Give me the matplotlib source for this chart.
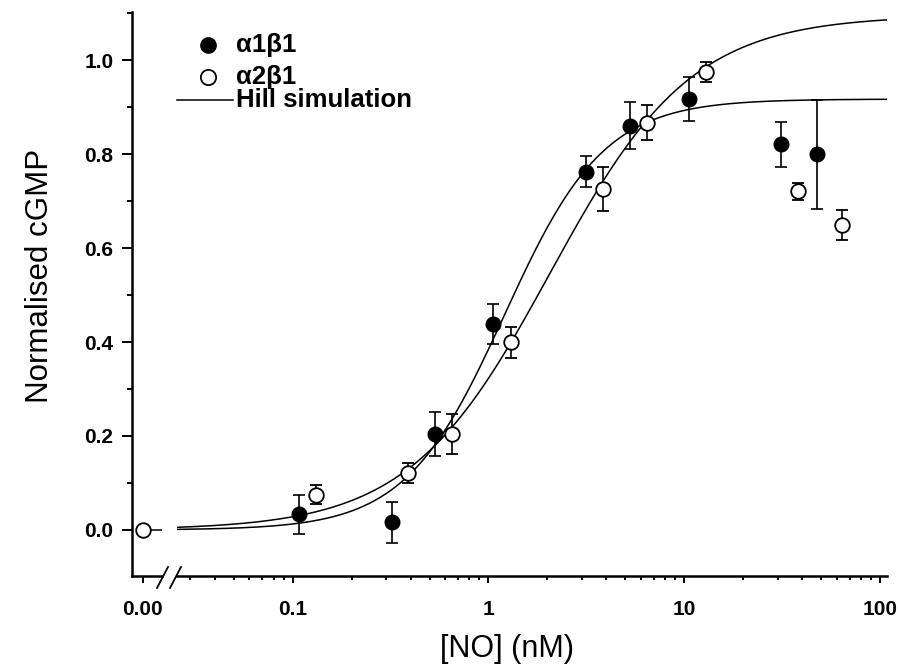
import numpy as np
import matplotlib
matplotlib.use("Agg")
import matplotlib.pyplot as plt
from matplotlib.lines import Line2D
from matplotlib.ticker import FixedLocator, MultipleLocator, LogLocator, NullFormatter, FuncFormatter

plt.rcParams['font.family'] = ['Liberation Sans', 'DejaVu Sans']

# [NO] in nM, normalised cGMP and SEM for each isoform
no_a1 = [0.108, 0.321, 0.533, 1.058, 3.15, 5.28, 10.6, 31.4, 47.6]
cgmp_a1 = [0.033, 0.016, 0.204, 0.438, 0.762, 0.860, 0.918, 0.821, 0.800]
err_a1 = [0.042, 0.043, 0.047, 0.042, 0.033, 0.050, 0.047, 0.048, 0.116]

no_a2 = [0.1316, 0.389, 0.649, 1.298, 3.86, 6.47, 12.9, 38.2, 63.7]
cgmp_a2 = [0.075, 0.121, 0.204, 0.400, 0.725, 0.867, 0.975, 0.721, 0.650]
err_a2 = [0.020, 0.021, 0.042, 0.033, 0.047, 0.037, 0.021, 0.018, 0.032]

# basal point (no NO added)
no_zero = [0.0]
cgmp_zero = [0.0]

# Hill parameters: vmax, EC50 (nM), hill coefficient
hill_a1 = (0.917, 1.21, 1.71)
hill_a2 = (1.095, 2.07, 1.2)

x_ticks = [0.1, 1, 10, 100]


def hill(x, vmax, ec50, n):
    return vmax * x ** n / (ec50 ** n + x ** n)


W, H = 898, 670
fig = plt.figure(figsize=(W / 100, H / 100), dpi=100)

def fx(px):
    return px / W

def fy(py):
    return 1 - py / H

bottom = fy(576)
height = (576 - 11.7) / H
ax0 = fig.add_axes([fx(131.7), bottom, fx(162) - fx(131.7), height])
ax1 = fig.add_axes([fx(177), bottom, fx(887) - fx(177), height], sharey=ax0)

lw_axis = 1.8
for ax in (ax0, ax1):
    ax.spines['top'].set_visible(False)
    ax.spines['right'].set_visible(False)
    ax.spines['bottom'].set_linewidth(lw_axis)
    ax.spines['left'].set_linewidth(lw_axis)
ax1.spines['left'].set_visible(False)

ax0.set_ylim(-0.098, 1.103)

tick_font = {'fontsize': 15, 'fontweight': 'bold'}

# left stub holding the x = 0 point
ax0.set_xlim(-11, 19.3)
ax0.plot([0, 19.3], [0, 0], color='black', lw=1.1, zorder=2)
ax0.plot(no_zero, cgmp_zero, 'o', ms=10.5, mfc='white', mec='black', mew=1.3, zorder=4)
ax0.xaxis.set_major_locator(FixedLocator([0]))
ax0.set_xticklabels(['0.00'], **tick_font)
ax0.yaxis.set_major_locator(MultipleLocator(0.2))
ax0.yaxis.set_minor_locator(MultipleLocator(0.1))
ax0.yaxis.set_major_formatter(FuncFormatter(lambda v, p: f"{v:.1f}"))
ax0.tick_params(axis='y', which='major', length=7.2, width=1.4, pad=6)
ax0.tick_params(axis='y', which='minor', length=3.6, width=1.4)
ax0.tick_params(axis='x', which='major', length=5, width=1.4, pad=12)
for lab in ax0.get_yticklabels():
    lab.set_fontsize(15)
    lab.set_fontweight('bold')

# log part
ax1.set_xscale('log')
xmin, xmax = 10 ** -1.591, 10 ** 2.036
ax1.set_xlim(xmin, xmax)
xs = np.logspace(np.log10(xmin), np.log10(xmax), 500)
ax1.plot(xs, hill(xs, *hill_a1), color='black', lw=1.1, zorder=2)
ax1.plot(xs, hill(xs, *hill_a2), color='black', lw=1.1, zorder=2)

ax1.errorbar(no_a1, cgmp_a1, yerr=err_a1, fmt='o', color='black', ms=10.5,
             elinewidth=1.2, capsize=4, capthick=1.2, zorder=3)
ax1.errorbar(no_a2, cgmp_a2, yerr=err_a2, fmt='o', color='black', ms=10.5,
             mfc='white', mec='black', mew=1.3,
             elinewidth=1.2, capsize=4, capthick=1.2, zorder=3)

ax1.xaxis.set_major_locator(FixedLocator(x_ticks))
ax1.xaxis.set_major_formatter(FuncFormatter(lambda v, p: f"{v:g}"))
ax1.xaxis.set_minor_locator(LogLocator(base=10, subs=np.arange(2, 10)))
ax1.xaxis.set_minor_formatter(NullFormatter())
ax1.tick_params(axis='x', which='major', length=5, width=1.4, pad=12)
ax1.tick_params(axis='x', which='minor', length=3, width=1.4)
ax1.tick_params(axis='y', which='both', left=False, labelleft=False)
for lab in ax1.get_xticklabels():
    lab.set_fontsize(15)
    lab.set_fontweight('bold')

# axis break marks
for x0 in (157, 170):
    fig.add_artist(Line2D([fx(x0), fx(x0 + 11)], [fy(588), fy(567)], color='black', lw=1.3))

# legend
fig.add_artist(Line2D([fx(208)], [fy(45)], marker='o', ms=11, color='black', mfc='black'))
fig.add_artist(Line2D([fx(208)], [fy(77)], marker='o', ms=11, color='black', mfc='white', mew=1.3))
fig.add_artist(Line2D([fx(177), fx(233)], [fy(100), fy(100)], color='black', lw=1.1))
fig.text(fx(236), fy(45), 'α1β1', fontsize=18.5, fontweight='bold', va='center')
fig.text(fx(236), fy(77), 'α2β1', fontsize=18.5, fontweight='bold', va='center')
fig.text(fx(236), fy(100), 'Hill simulation', fontsize=18.5, fontweight='bold', va='center')

fig.text(fx(507), fy(649), '[NO] (nM)', fontsize=22, ha='center', va='center')
fig.text(fx(40), fy(276), 'Normalised cGMP', fontsize=22.5, rotation=90, ha='center', va='center')

fig.savefig('out.png', dpi=100)
